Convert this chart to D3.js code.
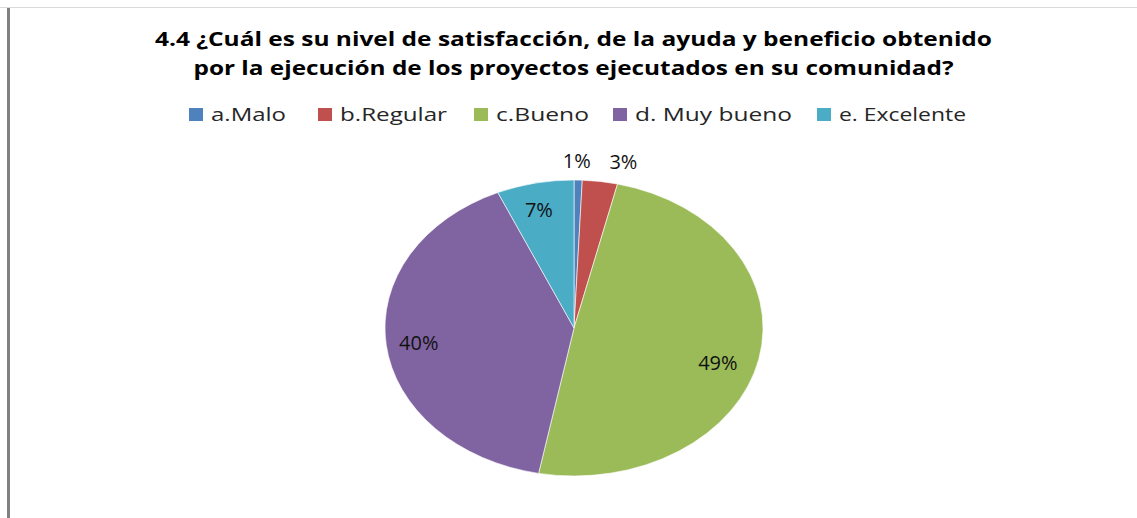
<!DOCTYPE html>
<html>
<head>
<meta charset="utf-8">
<script src="https://cdn.jsdelivr.net/npm/d3@7"></script>
<style>
  html, body { margin: 0; padding: 0; background: #fff; }
  svg { display: block; }
</style>
</head>
<body>
<div id="chart"></div>
<script>
// Chart data
const categories = ['a.Malo', 'b.Regular', 'c.Bueno', 'd. Muy bueno', 'e. Excelente'];
const shares = [0.7, 3.0, 49.3, 40.4, 6.6];
const valueLabels = ['1%', '3%', '49%', '40%', '7%'];
const colors = ['#4F81BD', '#C0504D', '#9BBB59', '#8064A2', '#4BACC6'];
const titleLines = [
    '4.4 ¿Cuál es su nivel de satisfacción, de la ayuda y beneficio obtenido',
    'por la ejecución de los proyectos ejecutados en su comunidad?'
];

const width = 1137, height = 518;
const font = 'Open Sans, Liberation Sans, sans-serif';

const svg = d3.select('#chart').append('svg')
    .attr('width', width)
    .attr('height', height);

// Frame lines
svg.append('line')
    .attr('x1', 0).attr('x2', width).attr('y1', 7.5).attr('y2', 7.5)
    .attr('stroke', '#d9d9d9').attr('stroke-width', 1);
svg.append('rect')
    .attr('x', 7).attr('y', 8).attr('width', 3).attr('height', height - 8)
    .attr('fill', '#808080');

// Title
const title = svg.append('text')
    .attr('text-anchor', 'middle')
    .attr('font-family', font)
    .attr('font-weight', 'bold')
    .attr('font-size', 20)
    .attr('fill', '#000');
const titleWidths = [837, 760];
titleLines.forEach((t, i) => {
    title.append('tspan')
        .attr('x', 573.5)
        .attr('y', 46 + i * 29)
        .attr('textLength', titleWidths[i])
        .attr('lengthAdjust', 'spacingAndGlyphs')
        .text(t);
});

// Legend
const legendX = [189, 318, 474, 613, 817];
const legendTextW = [75, 107, 93, 157, 127];
const legend = svg.append('g').selectAll('g')
    .data(categories)
    .join('g')
    .attr('transform', (d, i) => `translate(${legendX[i]},108)`);
legend.append('rect')
    .attr('width', 14).attr('height', 13)
    .attr('fill', (d, i) => colors[i]);
legend.append('text')
    .attr('x', 22).attr('y', 13)
    .attr('font-family', font)
    .attr('font-size', 19)
    .attr('fill', '#262626')
    .attr('textLength', (d, i) => legendTextW[i])
    .attr('lengthAdjust', 'spacingAndGlyphs')
    .text(d => d);

// Pie (Excel-style, squashed into an ellipse)
const cx = 574, cy = 328, rx = 189, ry = 148;
const pie = d3.pie().sort(null).value(d => d);
const arcs = pie(shares);
const arc = d3.arc().innerRadius(0).outerRadius(rx);

svg.append('g')
    .attr('transform', `translate(${cx},${cy}) scale(1,${ry / rx})`)
    .selectAll('path')
    .data(arcs)
    .join('path')
    .attr('d', arc)
    .attr('fill', (d, i) => colors[i])
    .attr('stroke', '#fff')
    .attr('stroke-width', 0.6)
    .attr('vector-effect', 'non-scaling-stroke');

// Data labels: inside for big slices, outside for the tiny ones
function labelPos(d) {
    const a = (d.startAngle + d.endAngle) / 2;
    const small = (d.endAngle - d.startAngle) < 0.3;
    const k = small ? 1.13 : 0.8;
    const x = cx + Math.sin(a) * rx * k;
    const y = cy - Math.cos(a) * ry * k;
    return [x, y];
}
// small nudges to follow Excel's best-fit placement
const nudge = [[-2, 0], [20, 0], [-4, 10], [-5, 2], [-4, -2]];

svg.append('g').selectAll('text')
    .data(arcs)
    .join('text')
    .each(function (d, i) {
        const [x, y] = labelPos(d);
        d3.select(this)
            .attr('x', x + nudge[i][0])
            .attr('y', y + 7 + nudge[i][1]);
    })
    .attr('text-anchor', 'middle')
    .attr('font-family', font)
    .attr('font-size', 20)
    .attr('fill', '#111')
    .text((d, i) => valueLabels[i]);
</script>
</body>
</html>
